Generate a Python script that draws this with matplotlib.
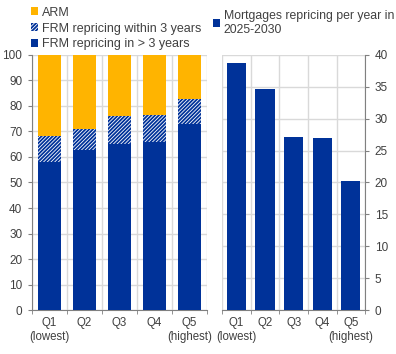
import matplotlib
matplotlib.use("Agg")
import matplotlib.pyplot as plt
from matplotlib.patches import Patch
import numpy as np

categories = ["Q1\n(lowest)", "Q2", "Q3", "Q4", "Q5\n(highest)"]
frm_long = [58.2, 62.9, 65.0, 65.8, 72.8]
frm_short = [10.0, 8.1, 11.1, 10.7, 9.9]
arm = [31.8, 29.0, 23.9, 23.5, 17.3]
repricing = [38.7, 34.6, 27.1, 27.0, 20.3]

BLUE = "#003299"
YELLOW = "#FFB400"
GRID = "#D9D9D9"
TXT = "#404040"
HATCH = "/////////"

plt.rcParams["font.family"] = ["Liberation Sans", "DejaVu Sans"]
plt.rcParams["hatch.linewidth"] = 1.3
plt.rcParams["hatch.color"] = BLUE

fig = plt.figure(figsize=(3.96, 3.54), dpi=100)
ax1 = fig.add_axes([0.081, 0.124, 0.442, 0.721])
ax2 = fig.add_axes([0.561, 0.124, 0.361, 0.721])

x = np.arange(len(categories))
w = 0.66
ax1.bar(x, frm_long, w, color=BLUE, zorder=3)
ax1.bar(x, frm_short, w, bottom=frm_long, color="white", edgecolor=BLUE,
        hatch=HATCH, linewidth=0, zorder=3)
bot2 = np.array(frm_long) + np.array(frm_short)
ax1.bar(x, arm, w, bottom=bot2, color=YELLOW, zorder=3)
ax1.set_ylim(0, 100)
ax1.set_yticks(range(0, 101, 10))

ax2.bar(x, repricing, 0.67, color=BLUE, zorder=3)
ax2.set_ylim(0, 40)
ax2.set_yticks(range(0, 41, 5))
ax2.yaxis.tick_right()

for ax in (ax1, ax2):
    ax.set_xlim(-0.5, 4.5)
    ax.set_xticks(x)
    ax.set_xticklabels(categories)
    ax.set_xticks(np.arange(-0.5, 5, 1), minor=True)
    ax.tick_params(axis="x", which="major", length=0, pad=5, labelsize=8.3, colors=TXT)
    ax.tick_params(axis="x", which="minor", length=3, color="#808080")
    ax.tick_params(axis="y", length=3, pad=4, color="#808080", labelsize=8.5, labelcolor=TXT)
    ax.grid(True, which="minor", axis="x", color=GRID, lw=1, zorder=0)
    ax.grid(True, which="major", axis="y", color=GRID, lw=1, zorder=0)
    ax.set_axisbelow(True)
    for s in ax.spines.values():
        s.set_visible(False)
    ax.spines["bottom"].set_visible(True)
    ax.spines["bottom"].set_color("#808080")

ax1.spines["left"].set_visible(True)
ax1.spines["left"].set_color("#808080")
ax2.spines["right"].set_visible(True)
ax2.spines["right"].set_color("#808080")

h1 = [Patch(facecolor=YELLOW, label="ARM"),
      Patch(facecolor="white", edgecolor=BLUE, hatch=HATCH, lw=0, label="FRM repricing within 3 years"),
      Patch(facecolor=BLUE, label="FRM repricing in > 3 years")]
fig.legend(handles=h1, loc="upper left", bbox_to_anchor=(0.065, 0.995), frameon=False,
           fontsize=9, handlelength=0.6, handleheight=0.6, handletextpad=0.3,
           labelspacing=0.3, borderaxespad=0, labelcolor=TXT)
h2 = [Patch(facecolor=BLUE, label="Mortgages repricing per year in\n2025-2030")]
fig.legend(handles=h2, loc="upper left", bbox_to_anchor=(0.525, 0.985), frameon=False,
           fontsize=8.8, handlelength=0.6, handleheight=0.6, handletextpad=0.3,
           borderaxespad=0, labelcolor=TXT)

fig.savefig("out.png", dpi=100)
